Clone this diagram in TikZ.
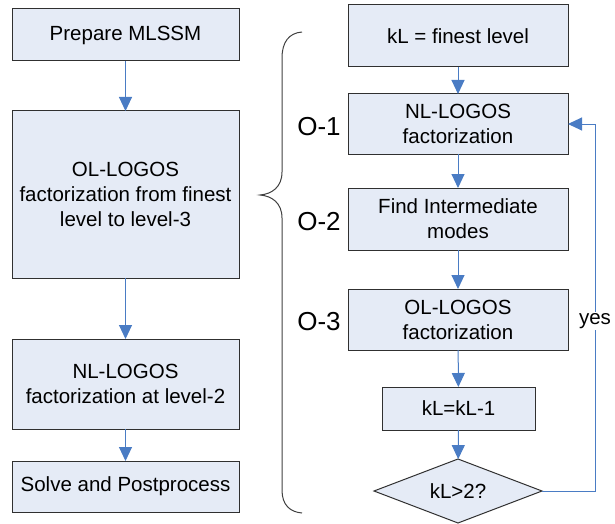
\documentclass[tikz,border=0pt]{standalone}
\usepackage{fontspec}
\setmainfont{Liberation Sans}
\usetikzlibrary{arrows.meta,shapes.geometric}
\definecolor{boxfill}{HTML}{E5EBF6}
\definecolor{boxline}{HTML}{303030}
\definecolor{flowblue}{HTML}{4A7CC4}
\definecolor{bracegray}{HTML}{404040}
\begin{document}
\begin{tikzpicture}[x=1pt,y=-1pt,
  every node/.style={inner sep=0pt,outer sep=0pt},
  box/.style={draw=boxline,fill=boxfill,line width=1pt,align=center,
    font=\fontsize{20.5}{25}\selectfont},
  decision/.style={diamond,draw=boxline,fill=boxfill,line width=1pt,
    font=\fontsize{20.5}{25}\selectfont},
  steplabel/.style={font=\fontsize{26}{30}\selectfont},
  arr/.style={draw=flowblue,line width=1pt,
    -{Triangle[length=14pt,width=13pt]}}]
\useasboundingbox (0,0) rectangle (615,524);

% left column: overall procedure
\node[box,minimum width=227pt,minimum height=52pt] (prep) at (125.5,35)
  {Prepare MLSSM};
\node[box,minimum width=227pt,minimum height=167pt] (ollogos) at (125.5,194.5)
  {OL-LOGOS\\factorization from finest\\level to level-3};
\node[box,minimum width=227pt,minimum height=90pt] (nllogos) at (125.5,384)
  {NL-LOGOS\\factorization at level-2};
\node[box,minimum width=227pt,minimum height=51pt] (solve) at (125.5,486.5)
  {Solve and Postprocess};

\draw[arr] (prep) -- (ollogos);
\draw[arr] (ollogos) -- (nllogos);
\draw[arr] (nllogos) -- (solve);

% brace grouping the detailed loop
\draw[bracegray,line width=1pt]
  (302,32) .. controls (289,33) and (282,42) .. (282,58)
  -- (282,172) .. controls (282,187) and (272,194) .. (260,195)
  .. controls (272,196) and (282,203) .. (282,218)
  -- (282,490) .. controls (282,505) and (290,512) .. (302,513);

% right column: level loop
\node[box,minimum width=220pt,minimum height=62pt] (init) at (458,36)
  {kL = finest level};
\node[box,minimum width=220pt,minimum height=60pt] (nlfact) at (458,124)
  {NL-LOGOS\\factorization};
\node[box,minimum width=220pt,minimum height=62pt] (modes) at (458,219)
  {Find Intermediate\\modes};
\node[box,minimum width=220pt,minimum height=61pt] (olfact) at (458,319.5)
  {OL-LOGOS\\factorization};
\node[box,minimum width=153pt,minimum height=43pt] (dec) at (458.5,408.5)
  {kL=kL-1};
\node[decision,minimum width=168pt,minimum height=64pt,shape aspect=2.6]
  (test) at (458,491) {kL>2?};

\node[steplabel] (o1) at (319,127) {O-1};
\node[steplabel] (o2) at (319,222) {O-2};
\node[steplabel] (o3) at (319,322) {O-3};

\draw[arr] (init) -- (nlfact);
\draw[arr] (nlfact) -- (modes);
\draw[arr] (modes) -- (olfact);
\draw[arr] (olfact) -- (dec);
\draw[arr] (dec) -- (test);

% loop back while levels remain
\coordinate (loopcorner) at (595,124);
\draw[arr] (test.east) -| (loopcorner) -- (nlfact.east);
\node[fill=white,inner sep=1pt,font=\fontsize{20.5}{25}\selectfont]
  (yes) at (595,321) {yes};
\end{tikzpicture}
\end{document}
